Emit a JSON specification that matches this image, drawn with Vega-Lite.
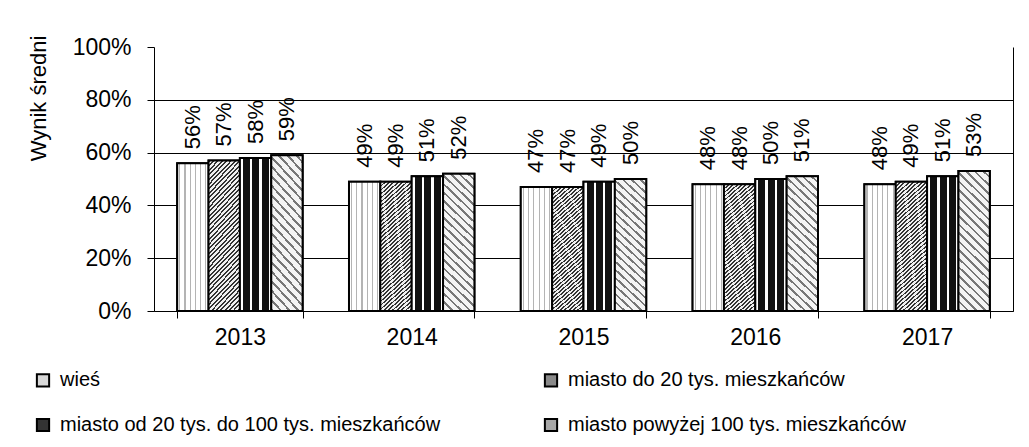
{
  "$schema": "https://vega.github.io/schema/vega-lite/v6.json",
  "width": 859,
  "height": 264,
  "autosize": {"type": "none"},
  "padding": {"left": 154, "top": 47, "right": 16, "bottom": 136},
  "background": "white",
  "config": {
    "view": {"stroke": null},
    "font": "Liberation Sans",
    "text": {"font": "Liberation Sans"}
  },
  "data": {
    "values": [
      {"rok": "2013", "grupa": "wieś", "wynik": 0.56},
      {"rok": "2013", "grupa": "miasto do 20 tys. mieszkańców", "wynik": 0.57},
      {"rok": "2013", "grupa": "miasto od 20 tys. do 100 tys. mieszkańców", "wynik": 0.58},
      {"rok": "2013", "grupa": "miasto powyżej 100 tys. mieszkańców", "wynik": 0.59},
      {"rok": "2014", "grupa": "wieś", "wynik": 0.49},
      {"rok": "2014", "grupa": "miasto do 20 tys. mieszkańców", "wynik": 0.49},
      {"rok": "2014", "grupa": "miasto od 20 tys. do 100 tys. mieszkańców", "wynik": 0.51},
      {"rok": "2014", "grupa": "miasto powyżej 100 tys. mieszkańców", "wynik": 0.52},
      {"rok": "2015", "grupa": "wieś", "wynik": 0.47},
      {"rok": "2015", "grupa": "miasto do 20 tys. mieszkańców", "wynik": 0.47},
      {"rok": "2015", "grupa": "miasto od 20 tys. do 100 tys. mieszkańców", "wynik": 0.49},
      {"rok": "2015", "grupa": "miasto powyżej 100 tys. mieszkańców", "wynik": 0.50},
      {"rok": "2016", "grupa": "wieś", "wynik": 0.48},
      {"rok": "2016", "grupa": "miasto do 20 tys. mieszkańców", "wynik": 0.48},
      {"rok": "2016", "grupa": "miasto od 20 tys. do 100 tys. mieszkańców", "wynik": 0.50},
      {"rok": "2016", "grupa": "miasto powyżej 100 tys. mieszkańców", "wynik": 0.51},
      {"rok": "2017", "grupa": "wieś", "wynik": 0.48},
      {"rok": "2017", "grupa": "miasto do 20 tys. mieszkańców", "wynik": 0.49},
      {"rok": "2017", "grupa": "miasto od 20 tys. do 100 tys. mieszkańców", "wynik": 0.51},
      {"rok": "2017", "grupa": "miasto powyżej 100 tys. mieszkańców", "wynik": 0.53}
    ]
  },
  "resolve": {"scale": {"y": "independent"}},
  "encoding": {
    "x": {
      "field": "rok", "type": "nominal",
      "scale": {"paddingInner": 0.27, "paddingOuter": 0.135},
      "axis": {
        "title": null, "labelAngle": 0, "labelFontSize": 23, "labelColor": "black",
        "domainColor": "black", "tickColor": "black", "tickSize": 7, "tickBand": "extent",
        "labelPadding": 8
      }
    },
    "xOffset": {
      "field": "grupa", "type": "nominal",
      "scale": {"domain": ["wieś", "miasto do 20 tys. mieszkańców", "miasto od 20 tys. do 100 tys. mieszkańców", "miasto powyżej 100 tys. mieszkańców"]}
    }
  },
  "layer": [
    {
      "mark": {"type": "bar", "stroke": "black", "strokeWidth": 2},
      "encoding": {
        "y": {
          "field": "wynik", "type": "quantitative",
          "scale": {"domain": [0, 1]},
          "axis": {
            "values": [0, 0.2, 0.4, 0.6, 0.8, 1], "format": ".0%",
            "labelFontSize": 23, "labelColor": "black", "labelPadding": 16,
            "domainColor": "black", "tickColor": "black", "tickSize": 7,
            "grid": true,
            "gridColor": {"condition": {"test": "datum.value >= 1", "value": "transparent"}, "value": "black"},
            "gridOpacity": 1,
            "title": "Wynik średni", "titleFontSize": 22, "titleFontWeight": "normal", "titleColor": "black",
            "titleAngle": 270, "titleX": -116, "titleY": 51, "titleAlign": "center", "titleBaseline": "middle"
          }
        },
        "fill": {
          "field": "grupa", "type": "nominal",
          "scale": {
            "domain": ["wieś", "miasto do 20 tys. mieszkańców", "miasto od 20 tys. do 100 tys. mieszkańców", "miasto powyżej 100 tys. mieszkańców"],
            "range": ["#d8d8d8", "#8a8a8a", "#333333", "#a8a8a8"]
          },
          "legend": {
            "title": null, "orient": "none", "legendX": -121, "legendY": 323,
            "columns": 2, "direction": "horizontal",
            "labelFontSize": 20, "labelColor": "black", "labelOffset": 7, "labelLimit": 600,
            "symbolType": "square", "symbolSize": 150, "symbolStrokeColor": "black", "symbolStrokeWidth": 2,
            "rowPadding": 23, "columnPadding": 99
          }
        }
      }
    },
    {
      "transform": [{"filter": "datum.grupa === 'wieś'"}],
      "mark": {"type": "bar", "stroke": "black", "strokeWidth": 2,
        "fill": {"gradient": "linear", "x1": 0, "y1": 0, "x2": 1, "y2": 0, "stops": [
          {"offset": 0, "color": "#ffffff"}, {"offset": 0.065, "color": "#ffffff"}, {"offset": 0.065, "color": "#b4b4b4"}, {"offset": 0.1, "color": "#b4b4b4"}, {"offset": 0.1, "color": "#ffffff"},
          {"offset": 0.2317, "color": "#ffffff"}, {"offset": 0.2317, "color": "#b4b4b4"}, {"offset": 0.2667, "color": "#b4b4b4"}, {"offset": 0.2667, "color": "#ffffff"},
          {"offset": 0.3983, "color": "#ffffff"}, {"offset": 0.3983, "color": "#b4b4b4"}, {"offset": 0.4333, "color": "#b4b4b4"}, {"offset": 0.4333, "color": "#ffffff"},
          {"offset": 0.565, "color": "#ffffff"}, {"offset": 0.565, "color": "#b4b4b4"}, {"offset": 0.6, "color": "#b4b4b4"}, {"offset": 0.6, "color": "#ffffff"},
          {"offset": 0.7317, "color": "#ffffff"}, {"offset": 0.7317, "color": "#b4b4b4"}, {"offset": 0.7667, "color": "#b4b4b4"}, {"offset": 0.7667, "color": "#ffffff"},
          {"offset": 0.8983, "color": "#ffffff"}, {"offset": 0.8983, "color": "#b4b4b4"}, {"offset": 0.9333, "color": "#b4b4b4"}, {"offset": 0.9333, "color": "#ffffff"},
          {"offset": 1, "color": "#ffffff"}
        ]}},
      "encoding": {
        "y": {"field": "wynik", "type": "quantitative", "scale": {"domain": [0, 1]}, "axis": null}
      }
    },
    {
      "transform": [{"filter": "datum.grupa === 'miasto do 20 tys. mieszkańców'"}],
      "mark": {"type": "bar", "stroke": "black", "strokeWidth": 2,
        "fill": {"gradient": "linear", "x1": 0, "y1": 0, "x2": 0.257, "y2": 1.17, "stops": [
          {"offset": 0, "color": "#333333"}, {"offset": 0.011, "color": "#333333"}, {"offset": 0.011, "color": "#f0f0f0"}, {"offset": 0.025, "color": "#f0f0f0"},
          {"offset": 0.025, "color": "#333333"}, {"offset": 0.036, "color": "#333333"}, {"offset": 0.036, "color": "#f0f0f0"}, {"offset": 0.05, "color": "#f0f0f0"},
          {"offset": 0.05, "color": "#333333"}, {"offset": 0.061, "color": "#333333"}, {"offset": 0.061, "color": "#f0f0f0"}, {"offset": 0.075, "color": "#f0f0f0"},
          {"offset": 0.075, "color": "#333333"}, {"offset": 0.086, "color": "#333333"}, {"offset": 0.086, "color": "#f0f0f0"}, {"offset": 0.1, "color": "#f0f0f0"},
          {"offset": 0.1, "color": "#333333"}, {"offset": 0.111, "color": "#333333"}, {"offset": 0.111, "color": "#f0f0f0"}, {"offset": 0.125, "color": "#f0f0f0"},
          {"offset": 0.125, "color": "#333333"}, {"offset": 0.136, "color": "#333333"}, {"offset": 0.136, "color": "#f0f0f0"}, {"offset": 0.15, "color": "#f0f0f0"},
          {"offset": 0.15, "color": "#333333"}, {"offset": 0.161, "color": "#333333"}, {"offset": 0.161, "color": "#f0f0f0"}, {"offset": 0.175, "color": "#f0f0f0"},
          {"offset": 0.175, "color": "#333333"}, {"offset": 0.186, "color": "#333333"}, {"offset": 0.186, "color": "#f0f0f0"}, {"offset": 0.2, "color": "#f0f0f0"},
          {"offset": 0.2, "color": "#333333"}, {"offset": 0.211, "color": "#333333"}, {"offset": 0.211, "color": "#f0f0f0"}, {"offset": 0.225, "color": "#f0f0f0"},
          {"offset": 0.225, "color": "#333333"}, {"offset": 0.236, "color": "#333333"}, {"offset": 0.236, "color": "#f0f0f0"}, {"offset": 0.25, "color": "#f0f0f0"},
          {"offset": 0.25, "color": "#333333"}, {"offset": 0.261, "color": "#333333"}, {"offset": 0.261, "color": "#f0f0f0"}, {"offset": 0.275, "color": "#f0f0f0"},
          {"offset": 0.275, "color": "#333333"}, {"offset": 0.286, "color": "#333333"}, {"offset": 0.286, "color": "#f0f0f0"}, {"offset": 0.3, "color": "#f0f0f0"},
          {"offset": 0.3, "color": "#333333"}, {"offset": 0.311, "color": "#333333"}, {"offset": 0.311, "color": "#f0f0f0"}, {"offset": 0.325, "color": "#f0f0f0"},
          {"offset": 0.325, "color": "#333333"}, {"offset": 0.336, "color": "#333333"}, {"offset": 0.336, "color": "#f0f0f0"}, {"offset": 0.35, "color": "#f0f0f0"},
          {"offset": 0.35, "color": "#333333"}, {"offset": 0.361, "color": "#333333"}, {"offset": 0.361, "color": "#f0f0f0"}, {"offset": 0.375, "color": "#f0f0f0"},
          {"offset": 0.375, "color": "#333333"}, {"offset": 0.386, "color": "#333333"}, {"offset": 0.386, "color": "#f0f0f0"}, {"offset": 0.4, "color": "#f0f0f0"},
          {"offset": 0.4, "color": "#333333"}, {"offset": 0.411, "color": "#333333"}, {"offset": 0.411, "color": "#f0f0f0"}, {"offset": 0.425, "color": "#f0f0f0"},
          {"offset": 0.425, "color": "#333333"}, {"offset": 0.436, "color": "#333333"}, {"offset": 0.436, "color": "#f0f0f0"}, {"offset": 0.45, "color": "#f0f0f0"},
          {"offset": 0.45, "color": "#333333"}, {"offset": 0.461, "color": "#333333"}, {"offset": 0.461, "color": "#f0f0f0"}, {"offset": 0.475, "color": "#f0f0f0"},
          {"offset": 0.475, "color": "#333333"}, {"offset": 0.486, "color": "#333333"}, {"offset": 0.486, "color": "#f0f0f0"}, {"offset": 0.5, "color": "#f0f0f0"},
          {"offset": 0.5, "color": "#333333"}, {"offset": 0.511, "color": "#333333"}, {"offset": 0.511, "color": "#f0f0f0"}, {"offset": 0.525, "color": "#f0f0f0"},
          {"offset": 0.525, "color": "#333333"}, {"offset": 0.536, "color": "#333333"}, {"offset": 0.536, "color": "#f0f0f0"}, {"offset": 0.55, "color": "#f0f0f0"},
          {"offset": 0.55, "color": "#333333"}, {"offset": 0.561, "color": "#333333"}, {"offset": 0.561, "color": "#f0f0f0"}, {"offset": 0.575, "color": "#f0f0f0"},
          {"offset": 0.575, "color": "#333333"}, {"offset": 0.586, "color": "#333333"}, {"offset": 0.586, "color": "#f0f0f0"}, {"offset": 0.6, "color": "#f0f0f0"},
          {"offset": 0.6, "color": "#333333"}, {"offset": 0.611, "color": "#333333"}, {"offset": 0.611, "color": "#f0f0f0"}, {"offset": 0.625, "color": "#f0f0f0"},
          {"offset": 0.625, "color": "#333333"}, {"offset": 0.636, "color": "#333333"}, {"offset": 0.636, "color": "#f0f0f0"}, {"offset": 0.65, "color": "#f0f0f0"},
          {"offset": 0.65, "color": "#333333"}, {"offset": 0.661, "color": "#333333"}, {"offset": 0.661, "color": "#f0f0f0"}, {"offset": 0.675, "color": "#f0f0f0"},
          {"offset": 0.675, "color": "#333333"}, {"offset": 0.686, "color": "#333333"}, {"offset": 0.686, "color": "#f0f0f0"}, {"offset": 0.7, "color": "#f0f0f0"},
          {"offset": 0.7, "color": "#333333"}, {"offset": 0.711, "color": "#333333"}, {"offset": 0.711, "color": "#f0f0f0"}, {"offset": 0.725, "color": "#f0f0f0"},
          {"offset": 0.725, "color": "#333333"}, {"offset": 0.736, "color": "#333333"}, {"offset": 0.736, "color": "#f0f0f0"}, {"offset": 0.75, "color": "#f0f0f0"},
          {"offset": 0.75, "color": "#333333"}, {"offset": 0.761, "color": "#333333"}, {"offset": 0.761, "color": "#f0f0f0"}, {"offset": 0.775, "color": "#f0f0f0"},
          {"offset": 0.775, "color": "#333333"}, {"offset": 0.786, "color": "#333333"}, {"offset": 0.786, "color": "#f0f0f0"}, {"offset": 0.8, "color": "#f0f0f0"},
          {"offset": 0.8, "color": "#333333"}, {"offset": 0.811, "color": "#333333"}, {"offset": 0.811, "color": "#f0f0f0"}, {"offset": 0.825, "color": "#f0f0f0"},
          {"offset": 0.825, "color": "#333333"}, {"offset": 0.836, "color": "#333333"}, {"offset": 0.836, "color": "#f0f0f0"}, {"offset": 0.85, "color": "#f0f0f0"},
          {"offset": 0.85, "color": "#333333"}, {"offset": 0.861, "color": "#333333"}, {"offset": 0.861, "color": "#f0f0f0"}, {"offset": 0.875, "color": "#f0f0f0"},
          {"offset": 0.875, "color": "#333333"}, {"offset": 0.886, "color": "#333333"}, {"offset": 0.886, "color": "#f0f0f0"}, {"offset": 0.9, "color": "#f0f0f0"},
          {"offset": 0.9, "color": "#333333"}, {"offset": 0.911, "color": "#333333"}, {"offset": 0.911, "color": "#f0f0f0"}, {"offset": 0.925, "color": "#f0f0f0"},
          {"offset": 0.925, "color": "#333333"}, {"offset": 0.936, "color": "#333333"}, {"offset": 0.936, "color": "#f0f0f0"}, {"offset": 0.95, "color": "#f0f0f0"},
          {"offset": 0.95, "color": "#333333"}, {"offset": 0.961, "color": "#333333"}, {"offset": 0.961, "color": "#f0f0f0"}, {"offset": 0.975, "color": "#f0f0f0"},
          {"offset": 0.975, "color": "#333333"}, {"offset": 0.986, "color": "#333333"}, {"offset": 0.986, "color": "#f0f0f0"}, {"offset": 1, "color": "#f0f0f0"}
        ]}},
      "encoding": {
        "y": {"field": "wynik", "type": "quantitative", "scale": {"domain": [0, 1]}, "axis": null}
      }
    },
    {
      "transform": [{"filter": "datum.grupa === 'miasto od 20 tys. do 100 tys. mieszkańców'"}],
      "mark": {"type": "bar", "stroke": "black", "strokeWidth": 2,
        "fill": {"gradient": "linear", "x1": 0, "y1": 0, "x2": 1, "y2": 0, "stops": [
          {"offset": 0, "color": "#ffffff"}, {"offset": 0.1, "color": "#ffffff"}, {"offset": 0.1, "color": "#111111"}, {"offset": 0.32, "color": "#111111"}, {"offset": 0.32, "color": "#ffffff"},
          {"offset": 0.4, "color": "#ffffff"}, {"offset": 0.4, "color": "#111111"}, {"offset": 0.62, "color": "#111111"}, {"offset": 0.62, "color": "#ffffff"},
          {"offset": 0.7, "color": "#ffffff"}, {"offset": 0.7, "color": "#111111"}, {"offset": 0.92, "color": "#111111"}, {"offset": 0.92, "color": "#ffffff"},
          {"offset": 1, "color": "#ffffff"}
        ]}},
      "encoding": {
        "y": {"field": "wynik", "type": "quantitative", "scale": {"domain": [0, 1]}, "axis": null}
      }
    },
    {
      "transform": [{"filter": "datum.grupa === 'miasto powyżej 100 tys. mieszkańców'"}],
      "mark": {"type": "bar", "stroke": "black", "strokeWidth": 2,
        "fill": {"gradient": "linear", "x1": 0, "y1": 1, "x2": 0.257, "y2": -0.17, "stops": [
          {"offset": 0, "color": "#777777"}, {"offset": 0.015, "color": "#777777"}, {"offset": 0.015, "color": "#f4f4f4"}, {"offset": 0.05, "color": "#f4f4f4"},
          {"offset": 0.05, "color": "#777777"}, {"offset": 0.065, "color": "#777777"}, {"offset": 0.065, "color": "#f4f4f4"}, {"offset": 0.1, "color": "#f4f4f4"},
          {"offset": 0.1, "color": "#777777"}, {"offset": 0.115, "color": "#777777"}, {"offset": 0.115, "color": "#f4f4f4"}, {"offset": 0.15, "color": "#f4f4f4"},
          {"offset": 0.15, "color": "#777777"}, {"offset": 0.165, "color": "#777777"}, {"offset": 0.165, "color": "#f4f4f4"}, {"offset": 0.2, "color": "#f4f4f4"},
          {"offset": 0.2, "color": "#777777"}, {"offset": 0.215, "color": "#777777"}, {"offset": 0.215, "color": "#f4f4f4"}, {"offset": 0.25, "color": "#f4f4f4"},
          {"offset": 0.25, "color": "#777777"}, {"offset": 0.265, "color": "#777777"}, {"offset": 0.265, "color": "#f4f4f4"}, {"offset": 0.3, "color": "#f4f4f4"},
          {"offset": 0.3, "color": "#777777"}, {"offset": 0.315, "color": "#777777"}, {"offset": 0.315, "color": "#f4f4f4"}, {"offset": 0.35, "color": "#f4f4f4"},
          {"offset": 0.35, "color": "#777777"}, {"offset": 0.365, "color": "#777777"}, {"offset": 0.365, "color": "#f4f4f4"}, {"offset": 0.4, "color": "#f4f4f4"},
          {"offset": 0.4, "color": "#777777"}, {"offset": 0.415, "color": "#777777"}, {"offset": 0.415, "color": "#f4f4f4"}, {"offset": 0.45, "color": "#f4f4f4"},
          {"offset": 0.45, "color": "#777777"}, {"offset": 0.465, "color": "#777777"}, {"offset": 0.465, "color": "#f4f4f4"}, {"offset": 0.5, "color": "#f4f4f4"},
          {"offset": 0.5, "color": "#777777"}, {"offset": 0.515, "color": "#777777"}, {"offset": 0.515, "color": "#f4f4f4"}, {"offset": 0.55, "color": "#f4f4f4"},
          {"offset": 0.55, "color": "#777777"}, {"offset": 0.565, "color": "#777777"}, {"offset": 0.565, "color": "#f4f4f4"}, {"offset": 0.6, "color": "#f4f4f4"},
          {"offset": 0.6, "color": "#777777"}, {"offset": 0.615, "color": "#777777"}, {"offset": 0.615, "color": "#f4f4f4"}, {"offset": 0.65, "color": "#f4f4f4"},
          {"offset": 0.65, "color": "#777777"}, {"offset": 0.665, "color": "#777777"}, {"offset": 0.665, "color": "#f4f4f4"}, {"offset": 0.7, "color": "#f4f4f4"},
          {"offset": 0.7, "color": "#777777"}, {"offset": 0.715, "color": "#777777"}, {"offset": 0.715, "color": "#f4f4f4"}, {"offset": 0.75, "color": "#f4f4f4"},
          {"offset": 0.75, "color": "#777777"}, {"offset": 0.765, "color": "#777777"}, {"offset": 0.765, "color": "#f4f4f4"}, {"offset": 0.8, "color": "#f4f4f4"},
          {"offset": 0.8, "color": "#777777"}, {"offset": 0.815, "color": "#777777"}, {"offset": 0.815, "color": "#f4f4f4"}, {"offset": 0.85, "color": "#f4f4f4"},
          {"offset": 0.85, "color": "#777777"}, {"offset": 0.865, "color": "#777777"}, {"offset": 0.865, "color": "#f4f4f4"}, {"offset": 0.9, "color": "#f4f4f4"},
          {"offset": 0.9, "color": "#777777"}, {"offset": 0.915, "color": "#777777"}, {"offset": 0.915, "color": "#f4f4f4"}, {"offset": 0.95, "color": "#f4f4f4"},
          {"offset": 0.95, "color": "#777777"}, {"offset": 0.965, "color": "#777777"}, {"offset": 0.965, "color": "#f4f4f4"}, {"offset": 1, "color": "#f4f4f4"}
        ]}},
      "encoding": {
        "y": {"field": "wynik", "type": "quantitative", "scale": {"domain": [0, 1]}, "axis": null}
      }
    },
    {
      "mark": {"type": "text", "angle": 270, "align": "left", "baseline": "middle", "dx": 14, "fontSize": 22, "color": "black"},
      "encoding": {
        "y": {
          "field": "wynik", "type": "quantitative",
          "scale": {"domain": [0, 1]},
          "axis": {"orient": "right", "labels": false, "ticks": false, "grid": false, "title": null, "domainColor": "black"}
        },
        "text": {"field": "wynik", "type": "quantitative", "format": ".0%"}
      }
    }
  ]
}
